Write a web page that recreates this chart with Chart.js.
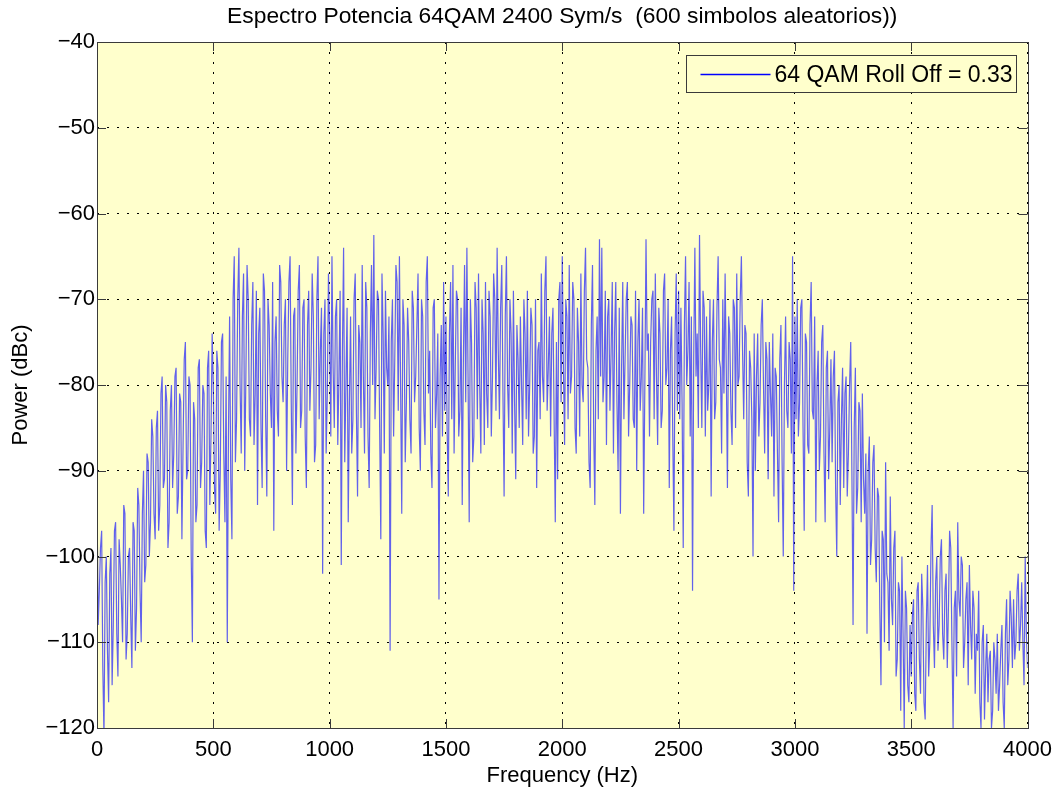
<!DOCTYPE html>
<html>
<head>
<meta charset="utf-8">
<title>Espectro Potencia 64QAM</title>
<script src="https://cdn.jsdelivr.net/npm/chart.js@4.4.1/dist/chart.umd.min.js"></script>
<style>
    html, body { margin: 0; padding: 0; background: #ffffff; }
    #chartWrap { width: 1061px; height: 792px; }
</style>
</head>
<body>
<div id="chartWrap"><canvas id="spectrumChart" width="1061" height="792"></canvas></div>
<script>
// Spectrum bins, 5 Hz apart, power in dBc
const binWidthHz = 5;

// 0 - 495 Hz
const power0to495 = [
    -93, -108, -104, -99, -97, -113, -121, -103, -100, -111,
    -117, -102, -99, -115, -108, -97, -96, -109, -114, -98,
    -101, -105, -110, -94, -95, -112, -109, -100, -99, -107,
    -113, -96, -97, -111, -106, -92, -94, -104, -110, -95,
    -90, -103, -101, -88, -89, -100, -96, -84, -86, -95,
    -98, -85, -83, -97, -94, -81, -79, -92, -91, -80,
    -82, -99, -96, -83, -80, -92, -88, -79, -78, -95,
    -93, -81, -82, -98, -87, -77, -75, -91, -90, -79,
    -80, -100, -110, -82, -84, -96, -94, -78, -77, -92,
    -89, -80, -81, -97, -99, -78, -76, -94, -86, -74
];
// 500 - 995 Hz
const power500to995 = [
    -80, -92, -95, -76, -78, -97, -90, -75, -74, -88,
    -96, -79, -110, -86, -72, -91, -98, -70, -65, -89,
    -84, -70, -64, -80, -88, -72, -67, -90, -79, -66,
    -70, -84, -86, -73, -68, -87, -81, -69, -94, -74,
    -71, -85, -92, -67, -69, -84, -93, -70, -73, -81,
    -85, -68, -97, -75, -72, -83, -86, -66, -68, -79,
    -82, -73, -70, -90, -77, -68, -65, -82, -94, -72,
    -71, -88, -80, -69, -66, -85, -83, -71, -70, -86,
    -92, -73, -69, -83, -78, -67, -72, -89, -87, -70,
    -65, -84, -76, -71, -102, -74, -70, -88, -81, -67
];
// 1000 - 1495 Hz
const power1000to1495 = [
    -74, -86, -65, -78, -85, -72, -70, -87, -79, -69,
    -101, -76, -64, -89, -80, -71, -96, -82, -72, -88,
    -84, -70, -67, -83, -93, -73, -75, -85, -66, -79,
    -88, -68, -71, -86, -92, -74, -66, -80, -62.5, -84,
    -78, -69, -70, -85, -98, -67, -74, -88, -69, -78,
    -80, -72, -111, -75, -70, -86, -77, -66, -68, -83,
    -65, -80, -95, -70, -73, -89, -82, -71, -75, -84,
    -88, -69, -71, -82, -79, -73, -67, -85, -90, -70,
    -72, -83, -87, -68, -65, -81, -76, -88, -92, -71,
    -70, -85, -81, -74, -105, -79, -73, -86, -68, -83
];
// 1500 - 1995 Hz
const power1500to1995 = [
    -72, -85, -93, -74, -68, -84, -66, -88, -78, -69,
    -70, -86, -83, -71, -94, -77, -66, -82, -64, -79,
    -96, -70, -75, -89, -86, -68, -71, -84, -67, -80,
    -88, -70, -74, -87, -68, -81, -85, -69, -72, -86,
    -79, -67, -70, -83, -64, -76, -84, -71, -66, -81,
    -93, -72, -65, -80, -85, -70, -74, -88, -69, -82,
    -91, -73, -77, -85, -72, -80, -87, -70, -74, -84,
    -69, -86, -80, -71, -73, -88, -86, -70, -92, -76,
    -75, -84, -67, -79, -82, -69, -65, -83, -78, -72,
    -86, -74, -71, -84, -96, -75, -91, -70, -68, -82
];
// 2000 - 2495 Hz
const power2000to2495 = [
    -65, -78, -87, -70, -72, -84, -66, -81, -79, -68,
    -70, -85, -88, -71, -75, -86, -67, -80, -82, -69,
    -64, -77, -78, -89, -92, -73, -66, -85, -94, -76,
    -72, -84, -63, -79, -64, -82, -79, -69, -87, -72,
    -70, -83, -76, -68, -88, -74, -68, -82, -90, -71,
    -95, -78, -68, -84, -77, -70, -68, -86, -80, -72,
    -73, -84, -85, -69, -90, -75, -70, -83, -79, -71,
    -95, -80, -63, -76, -74, -86, -75, -70, -69, -84,
    -67, -79, -87, -71, -74, -85, -83, -69, -67, -80,
    -78, -70, -92, -76, -72, -86, -97, -74, -67, -83
];
// 2500 - 2995 Hz
const power2500to2995 = [
    -69, -84, -71, -82, -99, -73, -65, -80, -76, -68,
    -86, -72, -104, -77, -64, -79, -74, -85, -62.5, -76,
    -85, -69, -71, -86, -72, -83, -80, -70, -93, -75,
    -70, -84, -82, -71, -65, -77, -78, -88, -70, -81,
    -67, -78, -92, -72, -74, -83, -87, -70, -71, -85,
    -67, -80, -79, -70, -65, -76, -84, -73, -74, -89,
    -93, -76, -78, -84, -100, -74, -90, -79, -74, -86,
    -82, -73, -70, -80, -88, -75, -77, -91, -75, -81,
    -86, -74, -93, -78, -79, -88, -96, -77, -73, -89,
    -100, -80, -72, -83, -85, -75, -77, -88, -65, -104
];
// 3000 - 3495 Hz
const power3000to3495 = [
    -72, -84, -70, -86, -82, -71, -70, -85, -97, -74,
    -75, -87, -88, -73, -68, -83, -84, -72, -96, -80,
    -76, -90, -86, -75, -73, -88, -96, -78, -76, -91,
    -85, -77, -89, -79, -76, -92, -100, -82, -80, -94,
    -84, -78, -92, -81, -79, -93, -88, -80, -75, -90,
    -108, -85, -78, -95, -92, -82, -83, -96, -81, -91,
    -95, -88, -109, -90, -86, -101, -98, -89, -87, -99,
    -103, -92, -93, -106, -115, -97, -98, -110, -89, -102,
    -103, -111, -93, -105, -108, -99, -97, -114, -112, -103,
    -104, -118, -100, -109, -120, -104, -106, -115, -117, -108
];
// 3500 - 4000 Hz
const power3500to4000 = [
    -114, -107, -105, -116, -118, -104, -103, -112, -116, -102,
    -106, -117, -119, -108, -101, -114, -110, -99, -94, -108,
    -113, -103, -100, -111, -108, -100, -98, -109, -112, -104,
    -102, -113, -106, -97, -99, -110, -120, -106, -104, -114,
    -96, -105, -107, -100, -101, -113, -110, -105, -103, -115,
    -101, -108, -112, -104, -106, -116, -109, -111, -104, -117,
    -120, -110, -108, -119, -113, -109, -117, -112, -111, -120,
    -118, -110, -112, -116, -109, -118, -115, -111, -108, -117,
    -120, -109, -105, -115, -112, -104, -107, -113, -105, -112,
    -110, -104, -102, -111, -108, -103, -110, -115, -100, -109,
    -113
];

// Axis ticks
const freqTicks = [0, 500, 1000, 1500, 2000, 2500, 3000, 3500, 4000];
const powerTicks = [-120, -110, -100, -90, -80, -70, -60, -50, -40];

const chartTitle = 'Espectro Potencia 64QAM 2400 Sym/s  (600 simbolos aleatorios))';
const traceLabel = '64 QAM Roll Off = 0.33';

document.addEventListener('DOMContentLoaded', function () {
    const canvas = document.getElementById('spectrumChart');
    if (!canvas) {
        console.error('Cannot find spectrum canvas');
        return;
    }

    const colors = {
        trace: 'rgba(0, 0, 255, 0.62)',
        legendLine: '#0000ff',
        plotFill: '#ffffcc',
        frame: '#3a3a3a',
        grid: '#000000',
        text: '#000000'
    };
    const fontFamily = "'Liberation Sans', Arial, Helvetica, sans-serif";

    const powerDbc = [].concat(
        power0to495, power500to995, power1000to1495, power1500to1995,
        power2000to2495, power2500to2995, power3000to3495, power3500to4000
    );
    const spectrumPoints = powerDbc.map((p, i) => ({ x: i * binWidthHz, y: p }));

    // Yellow axes background behind the trace
    const plotBackground = {
        id: 'plotBackground',
        beforeDraw(chart) {
            const { ctx, chartArea: a } = chart;
            ctx.save();
            ctx.fillStyle = colors.plotFill;
            ctx.fillRect(a.left, a.top, a.right - a.left, a.bottom - a.top);
            ctx.restore();
        }
    };

    // Box around the axes, inward tick marks on all four sides,
    // title centred over the axes and the legend box
    const axesBox = {
        id: 'axesBox',
        afterDraw(chart) {
            const { ctx, chartArea: a } = chart;
            const xs = chart.scales.x;
            const ys = chart.scales.y;
            const tickLen = 9;
            ctx.save();
            ctx.strokeStyle = colors.frame;
            ctx.lineWidth = 1;
            ctx.beginPath();
            xs.ticks.forEach(t => {
                const px = Math.round(xs.getPixelForValue(t.value)) + 0.5;
                ctx.moveTo(px, a.bottom); ctx.lineTo(px, a.bottom - tickLen);
                ctx.moveTo(px, a.top); ctx.lineTo(px, a.top + tickLen);
            });
            ys.ticks.forEach(t => {
                const py = Math.round(ys.getPixelForValue(t.value)) + 0.5;
                ctx.moveTo(a.left, py); ctx.lineTo(a.left + tickLen, py);
                ctx.moveTo(a.right, py); ctx.lineTo(a.right - tickLen, py);
            });
            ctx.stroke();
            ctx.strokeRect(Math.round(a.left) + 0.5, Math.round(a.top) + 0.5,
                Math.round(a.right - a.left), Math.round(a.bottom - a.top));

            // title
            ctx.fillStyle = colors.text;
            ctx.font = '22.8px ' + fontFamily;
            ctx.textAlign = 'center';
            ctx.textBaseline = 'middle';
            ctx.fillText(chartTitle, (a.left + a.right) / 2, 17);

            // legend
            const label = chart.data.datasets[0].label;
            const boxW = 330, boxH = 37;
            const bx = Math.round(a.right - 12 - boxW) + 0.5;
            const by = Math.round(a.top + 13) + 0.5;
            ctx.fillStyle = colors.plotFill;
            ctx.fillRect(bx, by, boxW, boxH);
            ctx.strokeRect(bx, by, boxW, boxH);
            const midY = Math.round(by + boxH / 2) + 0.5;
            ctx.beginPath();
            ctx.strokeStyle = colors.legendLine;
            ctx.lineWidth = 1.3;
            ctx.moveTo(bx + 14, midY);
            ctx.lineTo(bx + 84, midY);
            ctx.stroke();
            ctx.fillStyle = colors.text;
            ctx.font = '23px ' + fontFamily;
            ctx.textAlign = 'left';
            ctx.fillText(label, bx + 88, midY + 1);
            ctx.restore();
        }
    };

    const tickFont = { family: fontFamily, size: 22 };

    try {
        const spectrumChart = new Chart(canvas, {
            type: 'line',
            data: {
                datasets: [{
                    label: traceLabel,
                    data: spectrumPoints,
                    borderColor: colors.trace,
                    backgroundColor: colors.trace,
                    borderWidth: 1.2,
                    pointRadius: 0,
                    fill: false,
                    tension: 0
                }]
            },
            options: {
                responsive: false,
                animation: false,
                events: [],
                layout: { padding: { left: 0, right: 30, top: 42, bottom: 0 } },
                plugins: {
                    legend: { display: false },
                    tooltip: { enabled: false },
                    title: { display: false }
                },
                scales: {
                    x: {
                        type: 'linear',
                        min: 0,
                        max: 4000,
                        afterBuildTicks: scale => {
                            scale.ticks = freqTicks.map(v => ({ value: v }));
                        },
                        afterFit: scale => { scale.height = 64; },
                        grid: { color: colors.grid, lineWidth: 1, drawTicks: false },
                        border: { display: false, dash: [2, 8] },
                        ticks: {
                            color: colors.text,
                            font: tickFont,
                            padding: 9,
                            maxRotation: 0,
                            autoSkip: false,
                            callback: value => String(value)
                        },
                        title: {
                            display: true,
                            text: 'Frequency (Hz)',
                            color: colors.text,
                            font: tickFont,
                            padding: { top: 0, bottom: 3 }
                        }
                    },
                    y: {
                        type: 'linear',
                        min: -120,
                        max: -40,
                        afterBuildTicks: scale => {
                            scale.ticks = powerTicks.map(v => ({ value: v }));
                        },
                        afterFit: scale => { scale.width = 97; },
                        grid: { color: colors.grid, lineWidth: 1, drawTicks: false },
                        border: { display: false, dash: [2, 8] },
                        ticks: {
                            color: colors.text,
                            font: tickFont,
                            padding: 2,
                            autoSkip: false,
                            callback: value => String(value).replace('-', '\u2212')
                        },
                        title: {
                            display: true,
                            text: 'Power (dBc)',
                            color: colors.text,
                            font: tickFont,
                            padding: { top: 8, bottom: 0 }
                        }
                    }
                }
            },
            plugins: [plotBackground, axesBox]
        });
        window.spectrumChart = spectrumChart;
    } catch (error) {
        console.error('Error setting up spectrum chart:', error);
    }
});
</script>
</body>
</html>
